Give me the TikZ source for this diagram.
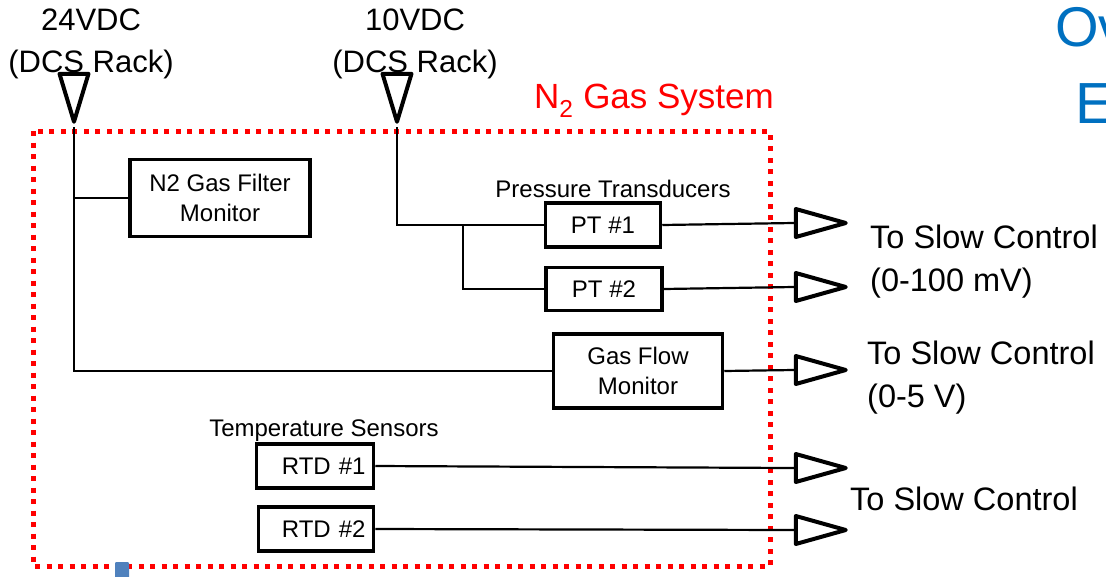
\documentclass[tikz,border=0pt]{standalone}
\usepackage{fontspec}
\setmainfont{Liberation Sans}
\usetikzlibrary{shapes.geometric,calc}

\begin{document}
\begin{tikzpicture}[
    x=1pt, y=-1pt,
    box/.style={rectangle, draw, line width=3.5pt, inner sep=0pt, font=\fontsize{24}{30}\selectfont, align=center},
    intri/.style={isosceles triangle, isosceles triangle stretches, shape border rotate=-90, draw, line width=4pt, line join=round, inner sep=0pt, minimum width=29, minimum height=48, anchor=apex},
    outtri/.style={isosceles triangle, isosceles triangle stretches, draw, line width=4pt, line join=round, inner sep=0pt, minimum width=28, minimum height=50, anchor=apex},
    wire/.style={line width=2.2pt},
    supply/.style={font=\fontsize{31}{42}\selectfont, align=center},
    dest/.style={font=\fontsize{32.5}{43}\selectfont, align=left, anchor=west, inner sep=0pt},
    group/.style={font=\fontsize{24}{28}\selectfont, inner sep=0pt}
]
\path[use as bounding box] (0,0) rectangle (1106,576);
\clip (0,0) rectangle (1106,576);

% gas system boundary
\draw[red, line width=5pt, dash pattern=on 5pt off 6.5pt] (33,131) rectangle (770,566);
\node[text=red, font=\fontsize{35}{40}\selectfont] (title) at (654,101) {N\textsubscript{2} Gas System};

% power inputs
\node[supply] (v24) at (91,44) {24VDC\\(DCS Rack)};
\node[supply] (v10) at (415,44) {10VDC\\(DCS Rack)};
\node[intri] (in24) at (74,127) {};
\node[intri] (in10) at (397,127) {};

% devices
\node[box, minimum width=180, minimum height=77] (filter) at (220,198) {N2 Gas Filter\\Monitor};
\node[group] (ptlabel) at (613,189) {Pressure Transducers};
\node[box, minimum width=115, minimum height=44] (pt1) at (603,225) {PT \#1};
\node[box, minimum width=116, minimum height=43] (pt2) at (604,289) {PT \#2};
\node[box, minimum width=169, minimum height=74] (gfm) at (638,371) {Gas Flow\\Monitor};
\node[group] (tslabel) at (324,431) {Temperature Sensors};
\node[box, minimum width=117, minimum height=44, text width=101, align=right] (rtd1) at (315,466) {RTD \#1};
\node[box, minimum width=115, minimum height=44, text width=99, align=right] (rtd2) at (316,529) {RTD \#2};

% outputs
\node[outtri] (out1) at (851,223) {};
\node[outtri] (out2) at (851,287) {};
\node[outtri] (out3) at (851,370) {};
\node[outtri] (out4) at (851,468) {};
\node[outtri] (out5) at (851,530) {};
\node[dest] (sc1) at (870,262) {To Slow Control\\(0-100 mV)};
\node[dest] (sc2) at (867,378) {To Slow Control\\(0-5 V)};
\node[dest] (sc3) at (850,499) {To Slow Control};

% wiring
\coordinate (j10) at (463,225);
\draw[wire] (in24.apex) |- (gfm.west);
\draw[wire] (in24.apex |- filter.west) -- (filter.west);
\draw[wire] (in10.apex) |- (pt1.west);
\draw[wire] (j10) |- (pt2.west);
\draw[wire] (pt1.east) -- (out1.lower side);
\draw[wire] (pt2.east) -- (out2.lower side);
\draw[wire] (gfm.east) -- (out3.lower side);
\draw[wire] (rtd1.east) -- (out4.lower side);
\draw[wire] (rtd2.east) -- (out5.lower side);

% slide remnants
\node[text={rgb,255:red,0;green,112;blue,192}, font=\fontsize{56}{60}\selectfont, anchor=west, inner sep=0pt] (heada) at (1055,27) {Ov};
\node[text={rgb,255:red,0;green,112;blue,192}, font=\fontsize{58}{60}\selectfont, anchor=west, inner sep=0pt] (headb) at (1075,104) {E};
\fill[fill={rgb,255:red,79;green,129;blue,189}, rounded corners=1pt] (115,562) rectangle (129,580);
\end{tikzpicture}
\end{document}
